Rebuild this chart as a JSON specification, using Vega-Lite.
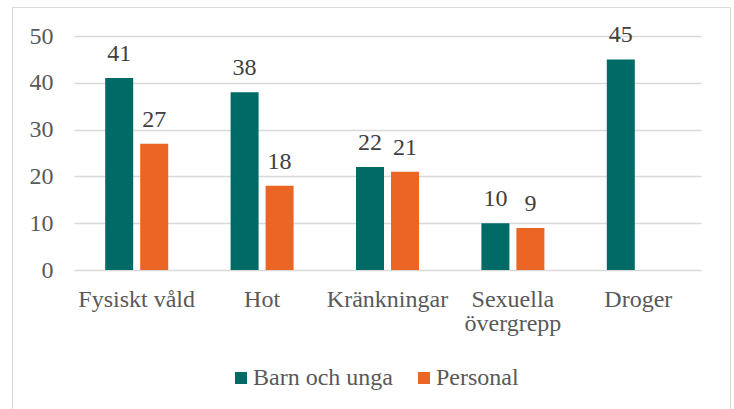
{
  "$schema": "https://vega.github.io/schema/vega-lite/v6.json",
  "width": 718,
  "height": 402,
  "autosize": "none",
  "padding": {"left": 12, "top": 7, "right": 4, "bottom": 0},
  "background": "white",
  "config": {
    "font": "Liberation Serif",
    "view": {"stroke": "#d9d9d9", "strokeWidth": 1, "strokeDash": [1120, 718, 402, 0]},
    "axis": {"labelFont": "Liberation Serif"},
    "legend": {"labelFont": "Liberation Serif"},
    "text": {"font": "Liberation Serif"}
  },
  "data": {
    "values": [
      {"kategori": "Fysiskt våld", "grupp": "Barn och unga", "varde": 41},
      {"kategori": "Fysiskt våld", "grupp": "Personal", "varde": 27},
      {"kategori": "Hot", "grupp": "Barn och unga", "varde": 38},
      {"kategori": "Hot", "grupp": "Personal", "varde": 18},
      {"kategori": "Kränkningar", "grupp": "Barn och unga", "varde": 22},
      {"kategori": "Kränkningar", "grupp": "Personal", "varde": 21},
      {"kategori": "Sexuella övergrepp", "grupp": "Barn och unga", "varde": 10},
      {"kategori": "Sexuella övergrepp", "grupp": "Personal", "varde": 9},
      {"kategori": "Droger", "grupp": "Barn och unga", "varde": 45}
    ]
  },
  "encoding": {
    "x": {
      "field": "kategori",
      "type": "nominal",
      "sort": null,
      "scale": {"range": [62, 689], "paddingInner": 0.4976, "paddingOuter": 0.2488},
      "axis": {
        "title": null,
        "offset": -139,
        "labelAngle": 0,
        "labelFont": "Liberation Serif",
        "labelFontSize": 24,
        "labelColor": "#595959",
        "labelPadding": 17,
        "labelLineHeight": 24,
        "labelOverlap": false,
        "labelLimit": 0,
        "ticks": false,
        "domain": false,
        "labelExpr": "datum.value == 'Sexuella övergrepp' ? ['Sexuella', 'övergrepp'] : datum.value"
      }
    },
    "xOffset": {
      "field": "grupp",
      "type": "nominal",
      "sort": ["Barn och unga", "Personal"],
      "scale": {"paddingInner": 0.2, "paddingOuter": 0}
    },
    "y": {
      "field": "varde",
      "type": "quantitative",
      "scale": {"domain": [0, 50], "nice": false, "range": [263, 29]},
      "axis": {
        "title": null,
        "offset": -62,
        "values": [0, 10, 20, 30, 40, 50],
        "labelFont": "Liberation Serif",
        "labelFontSize": 24,
        "labelColor": "#595959",
        "labelPadding": 21,
        "ticks": false,
        "domain": false,
        "gridColor": "#d9d9d9",
        "gridWidth": 1.5
      }
    }
  },
  "layer": [
    {
      "mark": {"type": "bar"},
      "encoding": {
        "color": {
          "field": "grupp",
          "type": "nominal",
          "sort": ["Barn och unga", "Personal"],
          "scale": {"domain": ["Barn och unga", "Personal"], "range": ["#006A66", "#EB6625"]},
          "legend": {
            "title": null,
            "orient": "none",
            "direction": "horizontal",
            "legendX": 217,
            "legendY": 359,
            "symbolType": "square",
            "symbolSize": 144,
            "symbolStrokeWidth": 0,
            "labelFont": "Liberation Serif",
            "labelFontSize": 24,
            "labelColor": "#595959",
            "labelOffset": 0,
            "columnPadding": 19,
            "padding": 0
          }
        }
      }
    },
    {
      "mark": {"type": "text", "baseline": "alphabetic", "dy": -17, "font": "Liberation Serif", "fontSize": 24, "color": "#404040"},
      "encoding": {
        "text": {"field": "varde", "type": "quantitative"}
      }
    }
  ]
}
